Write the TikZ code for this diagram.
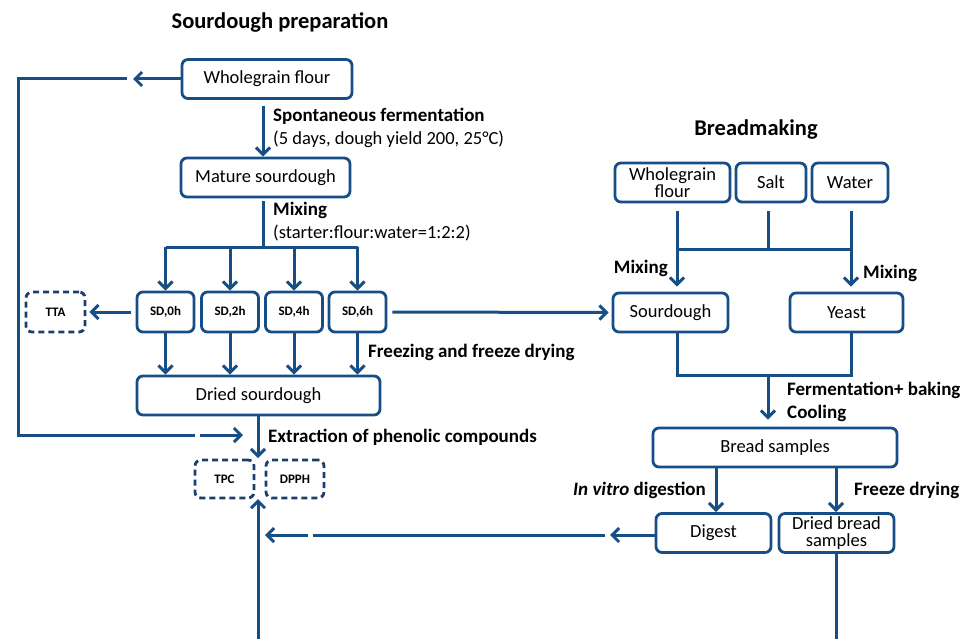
\documentclass[tikz,border=0pt]{standalone}
\usepackage{fontspec}
\setmainfont{Carlito}
\usetikzlibrary{arrows.meta}
\definecolor{bl}{RGB}{24,78,134}
\definecolor{dbl}{RGB}{28,62,110}
\tikzset{
  box/.style={draw=bl, line width=2.8pt, rounded corners=6pt, minimum height=39pt, align=center, inner sep=0pt, font=\fontsize{18.5}{15}\selectfont},
  sdbox/.style={box, minimum width=57pt, minimum height=40pt, font=\bfseries\fontsize{13}{13}\selectfont},
  dbox/.style={sdbox, draw=dbl, dash pattern=on 6pt off 4pt},
  ln/.style={draw=bl, line width=3pt},
  arr/.style={ln, -{Straight Barb[length=7pt,width=14pt]}},
  lab/.style={anchor=west, inner sep=0pt, font=\bfseries\fontsize{19}{19}\selectfont},
  rlab/.style={lab, font=\fontsize{18.5}{18.5}\selectfont},
  ttl/.style={inner sep=0pt, font=\bfseries\fontsize{22.5}{22.5}\selectfont}
}
\begin{document}
\begin{tikzpicture}[x=1pt,y=-1pt]
\useasboundingbox (0,0) rectangle (968,639);
% titles
\node[ttl] (t1) at (280,22) {Sourdough preparation};
\node[ttl] (t2) at (756,130) {Breadmaking};
% left nodes
\node[box, minimum width=170pt] (wf) at (267,79) {Wholegrain flour};
\node[box, minimum width=169pt] (ms) at (265.5,177.5) {Mature sourdough};
\node[sdbox] (sd0) at (165.5,312) {SD,0h};
\node[sdbox] (sd2) at (230,312) {SD,2h};
\node[sdbox] (sd4) at (294,312) {SD,4h};
\node[sdbox] (sd6) at (357.5,312) {SD,6h};
\node[dbox, minimum width=59pt] (tta) at (55.5,312) {TTA};
\node[box, minimum width=243pt] (dried) at (258.5,395.5) {Dried sourdough};
\node[dbox, minimum width=59pt, minimum height=38pt] (tpc) at (224.5,479) {TPC};
\node[dbox, minimum width=58pt, minimum height=38pt] (dpph) at (295,479) {DPPH};
% right nodes
\node[box, minimum width=115pt] (bwf) at (672.5,182.5) {Wholegrain\\flour};
\node[box, minimum width=70pt] (salt) at (771,182.5) {Salt};
\node[box, minimum width=76pt] (water) at (850,182.5) {Water};
\node[box, minimum width=115pt] (sour) at (670.5,312.5) {Sourdough};
\node[box, minimum width=113pt] (yeast) at (846.5,312.5) {Yeast};
\node[box, minimum width=244pt] (bread) at (775,447.5) {Bread samples};
\node[box, minimum width=115pt] (digest) at (713.5,533) {Digest};
\node[box, minimum width=115pt, font=\fontsize{18.5}{17.5}\selectfont] (dbs) at (836.5,533) {Dried bread\\samples};
% labels
\node[lab] (l1) at (273,116) {Spontaneous fermentation};
\node[rlab] (l2) at (273,139) {(5 days, dough yield 200, 25°C)};
\node[lab] (l3) at (273,210) {Mixing};
\node[rlab] (l4) at (273,233) {(starter:flour:water=1:2:2)};
\node[lab] (l5) at (368,352) {Freezing and freeze drying};
\node[lab] (l6) at (268,437) {Extraction of phenolic compounds};
\node[lab, anchor=east] (l7) at (668,268) {Mixing};
\node[lab] (l8) at (863,273) {Mixing};
\node[lab] (l9) at (787,390) {Fermentation+ baking};
\node[lab] (l10) at (787,413) {Cooling};
\node[lab, anchor=east] (l11) at (706,490) {\textit{In vitro} digestion};
\node[lab] (l12) at (854,490) {Freeze drying};
% left loop
\coordinate (a1) at (133,79);
\coordinate (a2) at (127,79);
\coordinate (a3) at (18,79);
\coordinate (a4) at (18,435);
\coordinate (a5) at (195,435);
\coordinate (a6) at (200,435);
\coordinate (a7) at (243,435);
\draw[arr] (wf.west) -- (a1);
\draw[ln] (a2) -- (a3) -- (a4) -- (a5);
\draw[arr] (a6) -- (a7);
% wf -> ms
\coordinate (c1) at (263,106);
\draw[arr] (c1) -- (c1 |- ms.north);
% mixing branch
\coordinate (mj) at (263,247);
\draw[ln] ([shift={(-2.5,3)}]ms.south) -- (mj);
\draw[ln] (sd0 |- mj) -- (sd6 |- mj);
\foreach \n in {sd0,sd2,sd4,sd6}{
  \draw[arr] (\n |- mj) -- (\n.north);
  \draw[arr] (\n.south) -- (\n.south |- dried.north);
}
\draw[arr, shorten <=5pt, shorten >=3pt] (sd0.west) -- (tta.east);
\draw[arr, shorten <=5pt, shorten >=3pt] (sd6.east) -- (sour.west);
% extraction
\coordinate (ex) at (258,458);
\draw[arr] (dried.south -| ex) -- (ex);
\coordinate (bot) at (258,639);
\coordinate (up) at (258,499);
\draw[arr] (bot) -- (up);
% digest back
\coordinate (d1) at (610,535);
\coordinate (d2) at (605,535);
\coordinate (d3) at (313,535);
\coordinate (d4) at (308,535);
\coordinate (d5) at (265,535);
\draw[arr] (digest.west |- d1) -- (d1);
\draw[ln] (d2) -- (d3);
\draw[arr] (d4) -- (d5);
\draw[ln] (dbs.south) -- (dbs.south |- bot);
% breadmaking top
\coordinate (jl) at (677,249);
\coordinate (jm) at (768,249);
\coordinate (jr) at (851,249);
\draw[ln] ([yshift=-8pt]bwf.south -| jl) -- (jl);
\draw[ln] ([yshift=-8pt]salt.south -| jm) -- (jm);
\draw[ln] ([yshift=-8pt]water.south -| jr) -- (jr);
\draw[ln] (jl) -- (jr);
\draw[arr, shorten >=5pt] (jl) -- (jl |- sour.north);
\draw[arr, shorten >=5pt] (jr) -- (jr |- yeast.north);
% join
\coordinate (kl) at (677,375);
\coordinate (km) at (768,375);
\coordinate (kr) at (851,375);
\draw[ln] (sour.south -| kl) -- (kl) -- (kr) -- (yeast.south -| kr);
\draw[arr, shorten >=7pt] (km) -- (km |- bread.north);
% bread -> digest/dried
\coordinate (e1) at (716,500);
\coordinate (e2) at (836,500);
\draw[arr] (bread.south -| e1) -- (digest.north -| e1);
\draw[arr] (bread.south -| e2) -- (dbs.north -| e2);
\end{tikzpicture}
\end{document}
